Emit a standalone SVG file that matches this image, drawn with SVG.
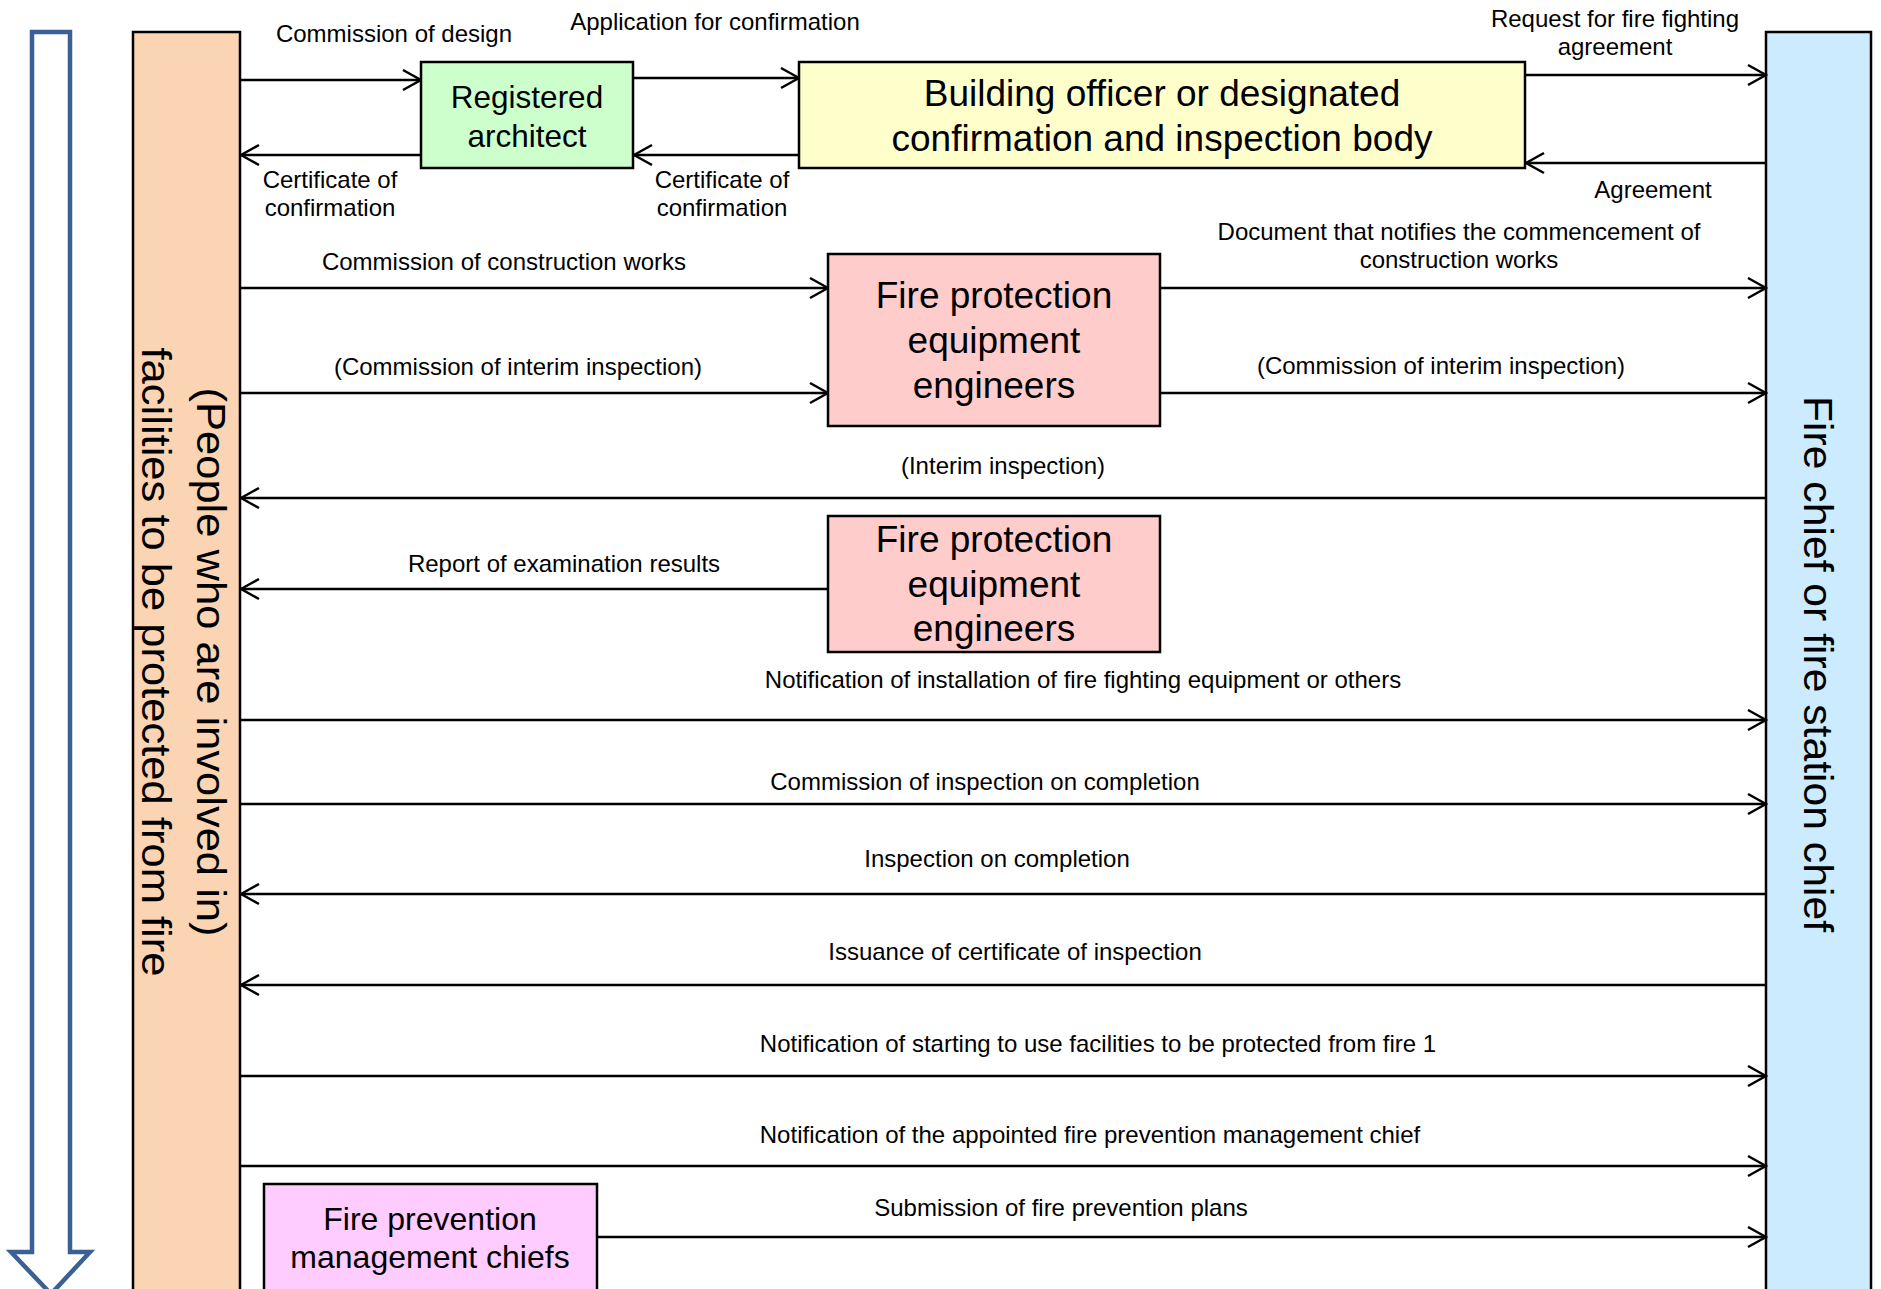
<svg xmlns="http://www.w3.org/2000/svg" width="1881" height="1289" viewBox="0 0 1881 1289">
  <defs>
    <!-- open V arrowhead used by every connector -->
    <marker id="open" markerUnits="userSpaceOnUse" markerWidth="22" markerHeight="24" viewBox="0 0 22 24" refX="20" refY="12" orient="auto">
      <path d="M2,2 L20,12 L2,22" fill="none" stroke="#000" stroke-width="2.5"/>
    </marker>
  </defs>
  <style>
    .box{stroke:#000;stroke-width:2.5}
    .flow line{stroke:#000;stroke-width:2.5;marker-end:url(#open)}
    .lbl{font-family:"Liberation Sans",Arial,sans-serif;font-size:24px;fill:#000;text-anchor:middle}
    .big{font-family:"Liberation Sans",Arial,sans-serif;fill:#000;text-anchor:middle}
    .vert{font-family:"Liberation Sans",Arial,sans-serif;font-size:41px;fill:#000;text-anchor:middle}
  </style>

  <rect width="1881" height="1289" fill="#fff"/>

  <!-- time direction arrow -->
  <g id="time-arrow">
    <path d="M32,32 L70,32 L70,1252 L90,1252 L51,1294 L11,1252 L32,1252 Z" fill="none" stroke="#3B6194" stroke-width="4.5"/>
  </g>

  <!-- left lane: people involved -->
  <g id="lane-owners">
    <rect class="box" x="133" y="32" width="107" height="1290" fill="#FBD4B4"/>
    <text class="vert" transform="translate(197,662) rotate(90)" textLength="549" lengthAdjust="spacingAndGlyphs">(People who are involved in)</text>
    <text class="vert" transform="translate(142,662) rotate(90)" textLength="629" lengthAdjust="spacingAndGlyphs">facilities to be protected from fire</text>
  </g>

  <!-- right lane: fire chief -->
  <g id="lane-fire-chief">
    <rect class="box" x="1766" y="32" width="105" height="1290" fill="#CCEBFF"/>
    <text class="vert" transform="translate(1804,664) rotate(90)" textLength="536" lengthAdjust="spacingAndGlyphs">Fire chief or fire station chief</text>
  </g>

  <!-- connectors -->
  <g id="connectors" class="flow">
    <line x1="240" y1="80" x2="421" y2="80"/>
    <line x1="421" y1="155" x2="241" y2="155"/>
    <line x1="633" y1="78" x2="799" y2="78"/>
    <line x1="799" y1="155" x2="634" y2="155"/>
    <line x1="1525" y1="75" x2="1766" y2="75"/>
    <line x1="1766" y1="163" x2="1526" y2="163"/>
    <line x1="240" y1="288" x2="828" y2="288"/>
    <line x1="1160" y1="288" x2="1766" y2="288"/>
    <line x1="240" y1="393" x2="828" y2="393"/>
    <line x1="1160" y1="393" x2="1766" y2="393"/>
    <line x1="1766" y1="498" x2="241" y2="498"/>
    <line x1="828" y1="589" x2="241" y2="589"/>
    <line x1="240" y1="720" x2="1766" y2="720"/>
    <line x1="240" y1="804" x2="1766" y2="804"/>
    <line x1="1766" y1="894" x2="241" y2="894"/>
    <line x1="1766" y1="985" x2="241" y2="985"/>
    <line x1="240" y1="1076" x2="1766" y2="1076"/>
    <line x1="240" y1="1166" x2="1766" y2="1166"/>
    <line x1="597" y1="1237" x2="1766" y2="1237"/>
  </g>

  <!-- connector labels -->
  <g id="labels" class="lbl">
    <text x="394" y="42">Commission of design</text>
    <text x="715" y="30">Application for confirmation</text>
    <text x="330" y="188">Certificate of</text>
    <text x="330" y="216">confirmation</text>
    <text x="722" y="188">Certificate of</text>
    <text x="722" y="216">confirmation</text>
    <text x="1615" y="27">Request for fire fighting</text>
    <text x="1615" y="55">agreement</text>
    <text x="1653" y="198">Agreement</text>
    <text x="1459" y="240">Document that notifies the commencement of</text>
    <text x="1459" y="268">construction works</text>
    <text x="504" y="270">Commission of construction works</text>
    <text x="518" y="375">(Commission of interim inspection)</text>
    <text x="1441" y="374">(Commission of interim inspection)</text>
    <text x="1003" y="474">(Interim inspection)</text>
    <text x="564" y="572">Report of examination results</text>
    <text x="1083" y="688">Notification of installation of fire fighting equipment or others</text>
    <text x="985" y="790">Commission of inspection on completion</text>
    <text x="997" y="867">Inspection on completion</text>
    <text x="1015" y="960">Issuance of certificate of inspection</text>
    <text x="1098" y="1052">Notification of starting to use facilities to be protected from fire 1</text>
    <text x="1090" y="1143">Notification of the appointed fire prevention management chief</text>
    <text x="1061" y="1216">Submission of fire prevention plans</text>
  </g>

  <g id="registered-architect">
    <rect class="box" x="421" y="62" width="212" height="106" fill="#CCFFCC"/>
    <text class="big" font-size="31.5" x="527" y="108">Registered</text>
    <text class="big" font-size="31.5" x="527" y="147">architect</text>
  </g>

  <g id="building-officer">
    <rect class="box" x="799" y="62" width="726" height="106" fill="#FFFFCC"/>
    <text class="big" font-size="37" x="1162" y="106">Building officer or designated</text>
    <text class="big" font-size="37" x="1162" y="151">confirmation and inspection body</text>
  </g>

  <g id="engineers-1">
    <rect class="box" x="828" y="254" width="332" height="172" fill="#FFCCCC"/>
    <text class="big" font-size="37" x="994" y="308">Fire protection</text>
    <text class="big" font-size="37" x="994" y="353">equipment</text>
    <text class="big" font-size="37" x="994" y="398">engineers</text>
  </g>

  <g id="engineers-2">
    <rect class="box" x="828" y="516" width="332" height="136" fill="#FFCCCC"/>
    <text class="big" font-size="37" x="994" y="552">Fire protection</text>
    <text class="big" font-size="37" x="994" y="597">equipment</text>
    <text class="big" font-size="37" x="994" y="641">engineers</text>
  </g>

  <g id="prevention-chiefs">
    <rect class="box" x="264" y="1184" width="333" height="130" fill="#FFCCFF"/>
    <text class="big" font-size="32" x="430" y="1230">Fire prevention</text>
    <text class="big" font-size="32" x="430" y="1268">management chiefs</text>
  </g>
</svg>
